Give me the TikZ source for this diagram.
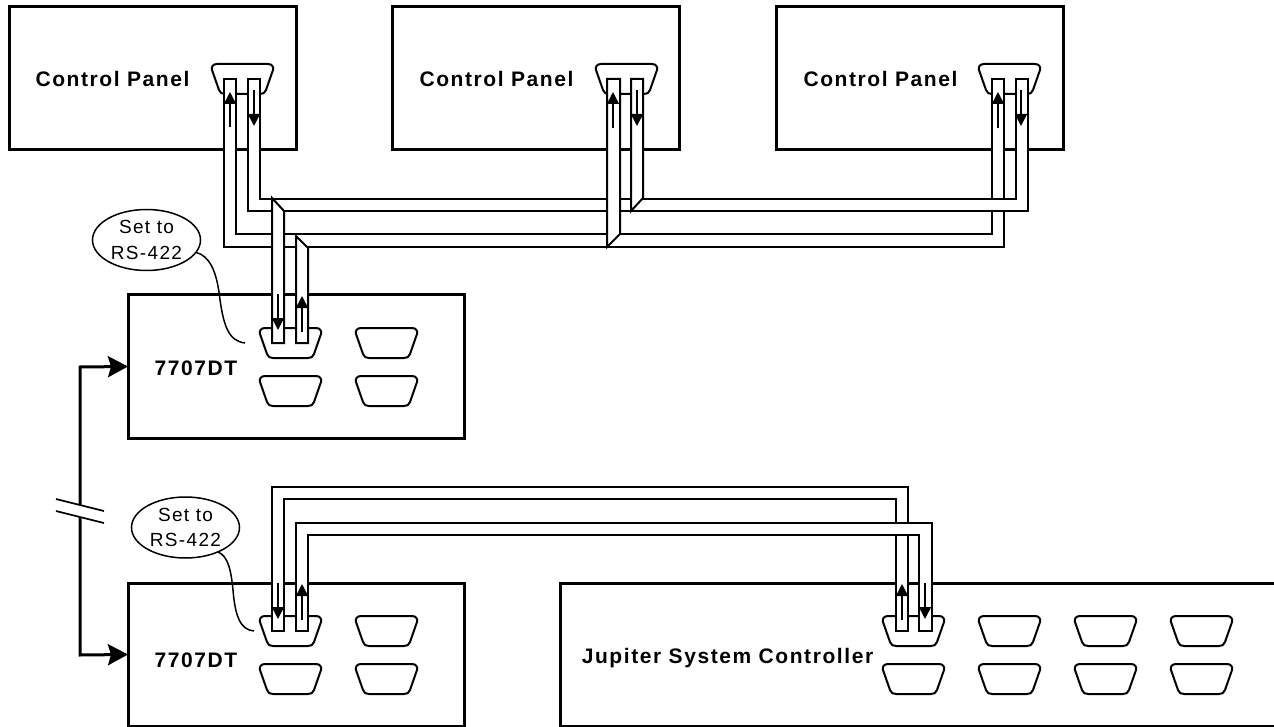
\documentclass[tikz,border=0pt]{standalone}
\usepackage{fontspec}
\setmainfont{Liberation Sans}
\newfontfamily\lblfont[LetterSpace=7.5]{Liberation Sans}
\newfontfamily\notefont[LetterSpace=7]{Liberation Sans}
\usetikzlibrary{arrows.meta,shapes.geometric}
\tikzset{
  hw/.style={draw=black,line width=3pt,fill=white,rectangle,inner sep=0pt,outer sep=0pt},
  hwlabel/.style={anchor=base,inner sep=0pt,font=\fontsize{21}{24}\selectfont\lblfont\bfseries},
  note/.style={draw=black,line width=1.5pt,fill=white,ellipse,inner sep=0pt,outer sep=0pt,minimum width=108pt,minimum height=61pt,align=center,font=\fontsize{19}{25.5}\selectfont\notefont},
  leader/.style={draw=black,line width=1.5pt},
  cable/.style={draw=black,line width=2pt,fill=white,line join=miter},
  flow/.style={line width=1.5pt,-{Triangle[length=12pt,width=12pt]}},
  bus/.style={line width=3pt,line join=miter,{Stealth[length=20pt,width=21pt,inset=3pt]}-{Stealth[length=20pt,width=21pt,inset=3pt]}},
  breakmark/.style={line width=1.7pt},
  dsub/.pic={\draw[line width=2pt,line join=round,fill=white] (5,0) -- (56,0) .. controls (60,0) and (62,3) .. (61,6) -- (54,26) .. controls (53,29) and (51,30) .. (48,30) -- (13,30) .. controls (10,30) and (8,29) .. (7,26) -- (0,6) .. controls (-1,3) and (1,0) .. (5,0) -- cycle;}
}
\begin{document}
\begin{tikzpicture}[x=1pt,y=-1pt]
\useasboundingbox (0,0) rectangle (1274,727);
\clip (0,0) rectangle (1274,727);
% equipment boxes
\node[hw,minimum width=287pt,minimum height=143pt] (cp1) at (152.5,78.5) {};
\node[hw,minimum width=287pt,minimum height=143pt] (cp2) at (535.5,78.5) {};
\node[hw,minimum width=287pt,minimum height=143pt] (cp3) at (919.5,78.5) {};
\node[hw,minimum width=336pt,minimum height=143pt] (dt1) at (296,366.5) {};
\node[hw,minimum width=336pt,minimum height=143pt] (dt2) at (296,654.5) {};
\node[hw,minimum width=760pt,minimum height=143pt] (js) at (940,654.5) {};
% labels
\node[hwlabel] (l1) at (112.5,87) {Control Panel};
\node[hwlabel] (l2) at (496.5,87) {Control Panel};
\node[hwlabel] (l3) at (880.5,87) {Control Panel};
\node[hwlabel] (l4) at (196,375) {7707DT};
\node[hwlabel] (l5) at (196,667) {7707DT};
\node[hwlabel] (l6) at (727.5,663) {Jupiter System Controller};
% connectors on the equipment
\pic at (212,64) {dsub};
\pic at (596,64) {dsub};
\pic at (979,64) {dsub};
\pic at (260,328) {dsub};
\pic at (356,328) {dsub};
\pic at (260,376) {dsub};
\pic at (356,376) {dsub};
\pic at (260,616) {dsub};
\pic at (356,616) {dsub};
\pic at (260,664) {dsub};
\pic at (356,664) {dsub};
\foreach \cx in {883,979,1075,1171}{
  \pic at (\cx,616) {dsub};
  \pic at (\cx,664) {dsub};
}
% upper ribbon cables
\draw[cable] (224,79) -- (236,79) -- (236,234) -- (992,234) -- (992,79) -- (1004,79) -- (1004,247) -- (224,247) -- cycle;
\draw[cable] (248,79) -- (260,79) -- (260,199) -- (1016,199) -- (1016,79) -- (1028,79) -- (1028,211) -- (248,211) -- cycle;
\draw[cable] (607,79) -- (620,79) -- (620,234) -- (607,247) -- cycle;
\draw[cable] (631,79) -- (643,79) -- (643,198) -- (631,211) -- cycle;
\draw[cable] (272,198) -- (284,211) -- (284,343) -- (272,343) -- cycle;
\draw[cable] (296,236) -- (308,248) -- (308,343) -- (296,343) -- cycle;
% lower ribbon cables
\draw[cable] (272,631) -- (272,487) -- (908,487) -- (908,631) -- (896,631) -- (896,499) -- (284,499) -- (284,631) -- cycle;
\draw[cable] (296,631) -- (296,523) -- (932,523) -- (932,631) -- (919,631) -- (919,535) -- (308,535) -- (308,631) -- cycle;
% flow arrows
\foreach \ax/\ay/\bx/\by in {230/127/230/92, 254/90/254/126, 613/128/613/92, 637/90/637/126, 998/128/998/92, 1021/90/1021/126,
  278/294/278/330, 302/332/302/296, 278/583/278/619, 302/620/302/584, 902/620/902/584, 925/583/925/619}{
  \draw[flow] (\ax,\ay) -- (\bx,\by);
}
% notes
\node[note] (n1) at (146.5,240) {Set to\\RS-422};
\node[note] (n2) at (185.5,527.5) {Set to\\RS-422};
\coordinate (n1end) at (245,343);
\coordinate (n2end) at (254,631);
\draw[leader] (n1.-14) .. controls (210,256) and (216,272) .. (219,292) .. controls (223,325) and (228,341) .. (n1end);
\draw[leader] (n2.-37) .. controls (228,556) and (231,570) .. (233,590) .. controls (235,615) and (240,630) .. (n2end);
% bus between the two frames
\coordinate (busa) at (80,367);
\coordinate (busb) at (80,655);
\draw[bus] (dt1.west) -- (busa) -- (busb) -- (dt2.west);
\coordinate (m1a) at (56,499);
\coordinate (m1b) at (104,511);
\coordinate (m2a) at (56,511);
\coordinate (m2b) at (104,523);
\fill[white] (m1a) -- (m1b) -- (m2b) -- (m2a) -- cycle;
\draw[breakmark] (m1a) -- (m1b);
\draw[breakmark] (m2a) -- (m2b);
\end{tikzpicture}
\end{document}
